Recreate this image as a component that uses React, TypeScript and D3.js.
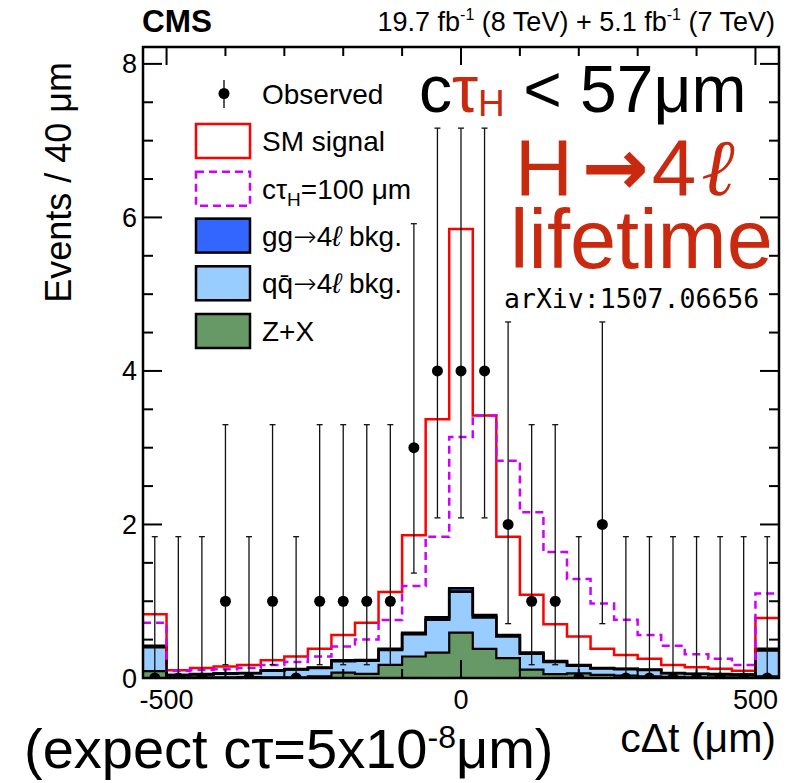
import React from "react";
import * as d3 from "d3";

// Bin centres of the cΔt histogram (µm), 40 µm wide bins
const binCenters = [
  -520, -480, -440, -400, -360, -320, -280, -240, -200, -160, -120, -80, -40, 0,
  40, 80, 120, 160, 200, 240, 280, 320, 360, 400, 440, 480, 520,
];

// Observed events per bin
const observed = [0, 0, 0, 1, 0, 1, 0, 1, 1, 1, 1, 3, 4, 4, 4, 2, 1, 1, 0, 2, 0, 0, 0, 0, 0, 0, 0];

// Garwood (Poisson) 68% interval for a count of 0..4
const poissonLow = [0, 0.173, 0.708, 1.367, 2.086];
const poissonHigh = [1.841, 3.3, 4.638, 5.918, 7.163];

// Expected totals: SM signal + background, and the cτ_H = 100 µm hypothesis
const smSignal = [
  0.83, 0.1, 0.13, 0.15, 0.17, 0.23, 0.28, 0.38, 0.56, 0.72, 1.12, 1.86, 3.37, 5.85,
  3.42, 1.84, 1.085, 0.7, 0.54, 0.38, 0.3, 0.25, 0.17, 0.14, 0.12, 0.095, 0.78,
];
const ctau100 = [
  0.72, 0.09, 0.105, 0.115, 0.13, 0.17, 0.21, 0.28, 0.41, 0.5, 0.755, 1.2, 1.84, 3.14,
  3.42, 2.83, 2.16, 1.64, 1.29, 0.97, 0.76, 0.56, 0.42, 0.31, 0.25, 0.17, 1.1,
];

// Background components (stacked bottom to top: Z+X, qq̄→4ℓ, gg→4ℓ)
const zxBkg = [
  0.09, 0.01, 0.01, 0.01, 0.012, 0.01, 0.01, 0.02, 0.07, 0.055, 0.17, 0.28, 0.33, 0.59,
  0.38, 0.26, 0.11, 0.05, 0.06, 0.04, 0.03, 0.02, 0.015, 0.01, 0.01, 0.01, 0.02,
];
const qqBkg = [
  0.31, 0.027, 0.037, 0.046, 0.05, 0.085, 0.1, 0.11, 0.15, 0.17, 0.195, 0.29, 0.43, 0.535,
  0.41, 0.28, 0.205, 0.16, 0.1, 0.085, 0.085, 0.085, 0.046, 0.042, 0.037, 0.032, 0.34,
];
const ggBkg = [
  0.02, 0.003, 0.003, 0.004, 0.004, 0.005, 0.006, 0.007, 0.01, 0.01, 0.015, 0.02, 0.03, 0.045,
  0.03, 0.02, 0.015, 0.01, 0.008, 0.006, 0.005, 0.005, 0.004, 0.003, 0.003, 0.003, 0.02,
];

const xMajorTicks = [-500, 0, 500];
const xMinorTicks = [-500, -400, -300, -200, -100, 0, 100, 200, 300, 400, 500];
const yMajorTicks = [0, 2, 4, 6, 8];

const W = 804;
const H = 783;
const FL = 143, FR = 779, FT = 47, FB = 678;

const FONT = "'Liberation Sans', Arial, Helvetica, sans-serif";
const ARROW_FONT = "'DejaVu Sans', sans-serif";
const RED_TXT = "#c9290e";
const C_GG = "#3366ff";
const C_QQ = "#99ccff";
const C_ZX = "#669966";
const C_SM = "#ff0000";
const C_CT = "#cc00ff";

const x = d3.scaleLinear().domain([-540, 540]).range([FL, FR]);
const y = d3.scaleLinear().domain([0, 8.22]).range([FB, FT]);

const half = (binCenters[1] - binCenters[0]) / 2;

// step points: one per bin low edge, plus the final high edge
function stepPoints(vals: number[]): [number, number][] {
  const pts: [number, number][] = binCenters.map((c, i) => [c - half, vals[i]]);
  pts.push([binCenters[binCenters.length - 1] + half, vals[vals.length - 1]]);
  return pts;
}

const stepLine = d3
  .line<[number, number]>()
  .x((d) => x(d[0]))
  .y((d) => y(d[1]))
  .curve(d3.curveStepAfter);

type Row = { c: number; zx: number; qq: number; gg: number };
const rows: Row[] = binCenters.map((c, i) => ({ c, zx: zxBkg[i], qq: qqBkg[i], gg: ggBkg[i] }));
const stacked = d3.stack<Row>().keys(["zx", "qq", "gg"])(rows);

type Band = { e: number; lo: number; hi: number };
function bandOf(series: d3.Series<Row, string>): Band[] {
  const b: Band[] = series.map((d) => ({ e: d.data.c - half, lo: d[0], hi: d[1] }));
  const last = series[series.length - 1];
  b.push({ e: last.data.c + half, lo: last[0], hi: last[1] });
  return b;
}
const bandArea = d3
  .area<Band>()
  .x((d) => x(d.e))
  .y0((d) => y(d.lo))
  .y1((d) => y(d.hi))
  .curve(d3.curveStepAfter);
const bandTop = d3
  .line<Band>()
  .x((d) => x(d.e))
  .y((d) => y(d.hi))
  .curve(d3.curveStepAfter);

const layerFill: Record<string, string> = { zx: C_ZX, qq: C_QQ, gg: C_GG };

function Legend() {
  const bx = 196, bw = 54, bh = 34, tx = 262;
  const rowsY = [141, 188.7, 235.6, 283.3, 331];
  const fs = 28;
  return (
    <g fontFamily={FONT} fontSize={fs}>
      {/* Observed */}
      <line x1={224} x2={224} y1={80} y2={108} stroke="#000" strokeWidth={1.3} />
      <circle cx={224} cy={93.5} r={5.5} fill="#000" />
      <text x={tx} y={103.5}>Observed</text>

      <rect x={bx} y={rowsY[0] - bh / 2} width={bw} height={bh} fill="#fff" stroke={C_SM} strokeWidth={2.5} />
      <text x={tx} y={rowsY[0] + 10}>SM signal</text>

      <rect x={bx} y={rowsY[1] - bh / 2} width={bw} height={bh} fill="#fff" stroke={C_CT} strokeWidth={2.5} strokeDasharray="8,5" />
      <text x={tx} y={rowsY[1] + 10}>
        cτ<tspan fontSize={19} dy={7}>H</tspan>
        <tspan dy={-7}>=100 μm</tspan>
      </text>

      <rect x={bx} y={rowsY[2] - bh / 2} width={bw} height={bh} fill={C_GG} stroke="#000" strokeWidth={2.5} />
      <text x={tx} y={rowsY[2] + 10}>
        gg<tspan fontFamily={ARROW_FONT} fontWeight={200}>→</tspan>4<tspan fontStyle="italic">ℓ</tspan> bkg.
      </text>

      <rect x={bx} y={rowsY[3] - bh / 2} width={bw} height={bh} fill={C_QQ} stroke="#000" strokeWidth={2.5} />
      <text x={tx} y={rowsY[3] + 10}>
        q{"q\u0304"}<tspan fontFamily={ARROW_FONT} fontWeight={200}>→</tspan>4<tspan fontStyle="italic">ℓ</tspan> bkg.
      </text>

      <rect x={bx} y={rowsY[4] - bh / 2} width={bw} height={bh} fill={C_ZX} stroke="#000" strokeWidth={2.5} />
      <text x={tx} y={rowsY[4] + 10}>Z+X</text>
    </g>
  );
}

function Axes() {
  const yMinor = d3.range(0, 8.01, 0.5);
  return (
    <g stroke="#000" strokeWidth={2}>
      {/* left / right y ticks */}
      {yMinor.map((v) => {
        const major = yMajorTicks.includes(v);
        const len = major ? 19 : 10;
        return (
          <g key={"y" + v}>
            <line x1={FL} x2={FL + len} y1={y(v)} y2={y(v)} />
            <line x1={FR} x2={FR - len} y1={y(v)} y2={y(v)} />
          </g>
        );
      })}
      {/* bottom / top x ticks */}
      {xMinorTicks.map((v) => {
        const major = xMajorTicks.includes(v);
        const len = major ? 18 : 9;
        return (
          <g key={"x" + v}>
            <line x1={x(v)} x2={x(v)} y1={FB} y2={FB - len} />
            <line x1={x(v)} x2={x(v)} y1={FT} y2={FT + len} />
          </g>
        );
      })}
      <rect x={FL} y={FT} width={FR - FL} height={FB - FT} fill="none" strokeWidth={2.5} />
    </g>
  );
}

export default function App() {
  const layers = stacked.map((s) => ({ key: s.key, band: bandOf(s) }));
  return (
    <svg
      width={W}
      height={H}
      viewBox={`0 0 ${W} ${H}`}
      style={{ position: "absolute", left: 0, top: 0, background: "#fff" }}
    >
      <defs>
        <clipPath id="plotArea">
          <rect x={FL} y={FT} width={FR - FL} height={FB - FT} />
        </clipPath>
      </defs>
      <rect x={0} y={0} width={W} height={H} fill="#fff" />

      <g clipPath="url(#plotArea)">
        {/* stacked backgrounds */}
        {layers.map((l) => (
          <path key={"f" + l.key} d={bandArea(l.band) || ""} fill={layerFill[l.key]} stroke="none" />
        ))}
        {layers.map((l) => (
          <path
            key={"o" + l.key}
            d={bandTop(l.band) || ""}
            fill="none"
            stroke="#000"
            strokeWidth={l.key === "zx" ? 2.2 : 2.6}
          />
        ))}

        {/* signal expectations */}
        <path d={stepLine(stepPoints(smSignal)) || ""} fill="none" stroke={C_SM} strokeWidth={2.5} />
        <path
          d={stepLine(stepPoints(ctau100)) || ""}
          fill="none"
          stroke={C_CT}
          strokeWidth={2.5}
          strokeDasharray="8,5"
        />

        {/* observed data with Poisson error bars */}
        {binCenters.map((c, i) => {
          const n = observed[i];
          const lo = poissonLow[n];
          const hi = poissonHigh[n];
          const cx = x(c);
          return (
            <g key={"d" + c}>
              <line x1={cx} x2={cx} y1={y(lo)} y2={y(hi)} stroke="#111" strokeWidth={1.3} />
              <line x1={cx - 3} x2={cx + 3} y1={y(hi)} y2={y(hi)} stroke="#111" strokeWidth={1.3} />
              {lo > 0 && (
                <line x1={cx - 3} x2={cx + 3} y1={y(lo)} y2={y(lo)} stroke="#111" strokeWidth={1.3} />
              )}
              <circle cx={cx} cy={y(n)} r={5.5} fill="#000" />
            </g>
          );
        })}
      </g>

      <Axes />

      {/* tick labels */}
      <g fontFamily={FONT} fontSize={27} fill="#000">
        {yMajorTicks.map((v) => (
          <text key={"yl" + v} x={137} y={y(v) + 9.5} textAnchor="end">
            {v}
          </text>
        ))}
        {xMajorTicks.map((v) => (
          <text key={"xl" + v} x={x(v)} y={709} textAnchor="middle">
            {v}
          </text>
        ))}
      </g>

      {/* axis titles */}
      <text
        fontFamily={FONT}
        fontSize={36}
        transform="translate(71,62) rotate(-90)"
        textAnchor="end"
      >
        Events / 40 μm
      </text>
      <text fontFamily={FONT} fontSize={41} x={776} y={752} textAnchor="end">
        cΔt (μm)
      </text>

      {/* header */}
      <text fontFamily={FONT} fontSize={31.5} fontWeight="bold" x={142} y={32}>
        CMS
      </text>
      <text fontFamily={FONT} fontSize={27} x={775} y={31} textAnchor="end">
        19.7 fb<tspan fontSize={16} dy={-11}>-1</tspan>
        <tspan dy={11}> (8 TeV) + 5.1 fb</tspan>
        <tspan fontSize={16} dy={-11}>-1</tspan>
        <tspan dy={11}> (7 TeV)</tspan>
      </text>

      <Legend />

      {/* lifetime annotations */}
      <text fontFamily={FONT} fontSize={66} x={419} y={111.5}>
        <tspan fill="#000">c</tspan>
        <tspan fill={RED_TXT}>τ</tspan>
        <tspan fill={RED_TXT} fontSize={37} dy={4}>H</tspan>
        <tspan fill="#000" dy={-4}> &lt; 57μm</tspan>
      </text>
      <text fontFamily={FONT} fontSize={80} x={515} y={195} fill={RED_TXT}>
        H<tspan fontFamily={ARROW_FONT} fontWeight="bold" dx={9}>→</tspan>
        <tspan dx={3}>4</tspan>
        <tspan fontFamily="'Liberation Serif', 'DejaVu Serif', serif" fontStyle="italic" dx={5}>ℓ</tspan>
      </text>
      <text fontFamily={FONT} fontSize={83} x={510} y={268} fill={RED_TXT}>
        lifetime
      </text>
      <text fontFamily="'DejaVu Sans Mono', monospace" fontSize={26.5} x={504} y={308} fill="#000">
        arXiv:1507.06656
      </text>

      <text fontFamily={FONT} fontSize={56} x={24} y={768} fill="#000">
        (expect cτ=5x10<tspan fontSize={32} dy={-20}>-8</tspan>
        <tspan dy={20}>μm)</tspan>
      </text>
    </svg>
  );
}
